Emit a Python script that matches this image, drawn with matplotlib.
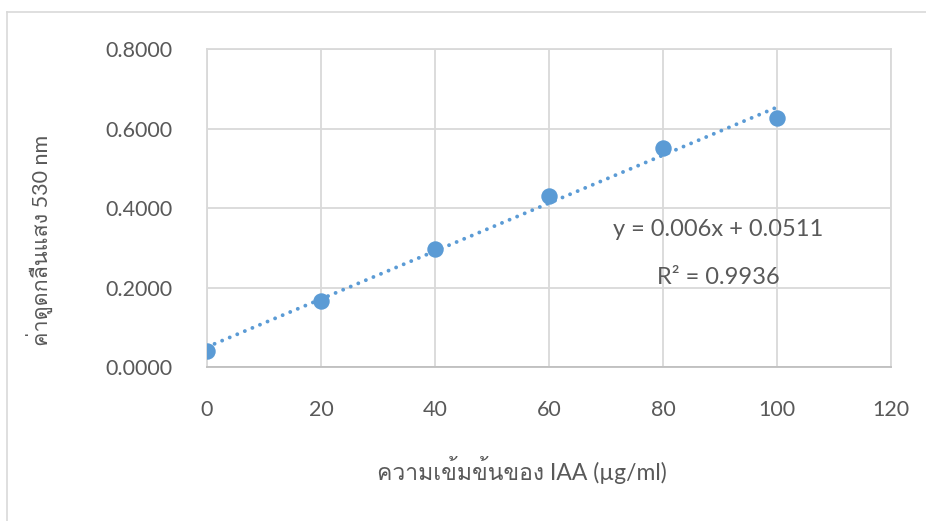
import matplotlib
matplotlib.use("Agg")
import matplotlib.pyplot as plt
import numpy as np
from matplotlib import font_manager
from matplotlib.ft2font import FT2Font
from matplotlib.lines import Line2D

# ---- data ----
conc = [0, 20, 40, 60, 80, 100]
absorb = [0.0410, 0.1650, 0.2975, 0.4290, 0.5520, 0.6270]
x_ticks = [0, 20, 40, 60, 80, 100, 120]
y_ticks = [0.0, 0.2, 0.4, 0.6, 0.8]
x_label = "ความเข้มข้นของ IAA (µg/ml)"
y_label = "ค่าดูดกลืนแสง 530 nm"
eq_text = "y = 0.006x + 0.0511"
r2_text = "R² = 0.9936"

# ---- find a font with Thai glyphs ----
thai_family = None
for f in font_manager.fontManager.ttflist:
    try:
        cm = FT2Font(f.fname).get_charmap()
        if 0x0E01 in cm and 0x0E40 in cm:
            thai_family = f.name
            if "Sans" in f.name or "Loma" in f.name:
                break
    except Exception:
        pass
families = ["Lato"] + ([thai_family] if thai_family else []) + ["DejaVu Sans"]
plt.rcParams["font.family"] = families
plt.rcParams["font.weight"] = "normal"

txt = "#595959"
grid = "#d9d9d9"
blue = "#5b9bd5"
fs = 15.5

fig = plt.figure(figsize=(9.26, 5.21), dpi=100)
ax = fig.add_axes([207/926, 1-367/521, (891-207)/926, (367-49)/521])

ax.scatter(conc, absorb, s=140, color=blue, zorder=4, linewidths=0)
k, b = np.polyfit(conc, absorb, 1)
xx = np.array([conc[0], conc[-1]])
ax.plot(xx, k*xx + b, color=blue, lw=2.8, linestyle=(0, (0.01, 2.1)),
        dash_capstyle="round", zorder=3)

ax.set_xlim(0, 120)
ax.set_ylim(0, 0.8)
ax.set_xticks(x_ticks)
ax.set_yticks(y_ticks)
ax.set_yticklabels([f"{v:.4f}" for v in y_ticks])
ax.tick_params(axis="both", length=0, colors=txt, labelsize=fs)
ax.tick_params(axis="x", pad=24)
ax.tick_params(axis="y", pad=25)
ax.grid(True, color=grid, lw=1.3)
ax.set_axisbelow(True)
for s in ax.spines.values():
    s.set_color(grid)
    s.set_linewidth(1.3)
ax.spines["bottom"].set_color("#bfbfbf")

fig.text(522/926, 1-470/521, x_label, ha="center", va="center", color=txt, fontsize=16.5)
fig.text(40/926, 1-240/521, y_label, ha="center", va="center", color=txt, fontsize=15.5, rotation=90)
ax.text((718-207)/684, 1-(230-49)/318, eq_text, transform=ax.transAxes, ha="center", va="center",
        color=txt, fontsize=17)
ax.text((718-207)/684, 1-(278-49)/318, r2_text, transform=ax.transAxes, ha="center", va="center",
        color=txt, fontsize=17)

# outer chart border (top and left visible)
fig.add_artist(Line2D([7/926, 1], [1-12/521, 1-12/521], transform=fig.transFigure, color=grid, lw=1.2))
fig.add_artist(Line2D([7/926, 7/926], [0, 1-12/521], transform=fig.transFigure, color=grid, lw=1.2))

fig.savefig("out.png", dpi=100)
